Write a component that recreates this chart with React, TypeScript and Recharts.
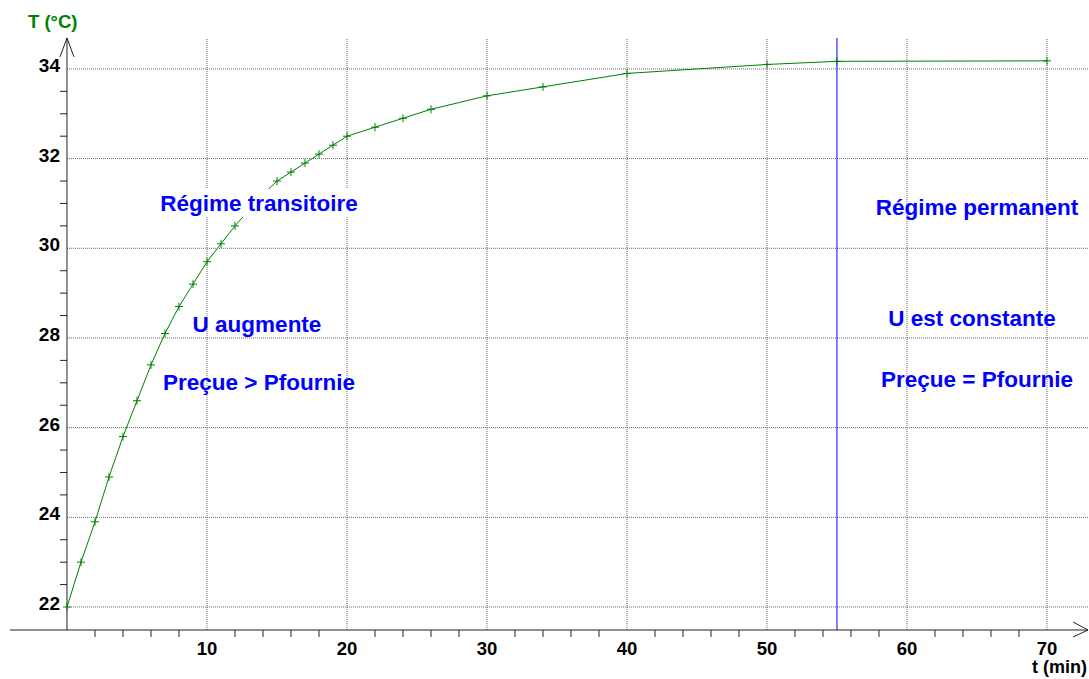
import React from "react";
import { LineChart, Line, XAxis, YAxis, ReferenceLine } from "recharts";

// ---- data ----
const times = [0, 1, 2, 3, 4, 5, 6, 7, 8, 9, 10, 11, 12, 13, 14, 15, 16, 17, 18, 19, 20, 22, 24, 26, 30, 34, 40, 50, 55, 70];
const temps = [22.0, 23.0, 23.9, 24.9, 25.8, 26.6, 27.4, 28.1, 28.7, 29.2, 29.7, 30.1, 30.5, 30.85, 31.2, 31.5, 31.7, 31.9, 32.1, 32.3, 32.5, 32.7, 32.9, 33.1, 33.4, 33.6, 33.9, 34.1, 34.17, 34.18];
const xLabels = [10, 20, 30, 40, 50, 60, 70];
const xMinor = [2, 4, 6, 8, 12, 14, 16, 18, 22, 24, 26, 28, 32, 34, 36, 38, 42, 44, 46, 48, 52, 54, 56, 58, 62, 64, 66, 68];
const yLabels = [22, 24, 26, 28, 30, 32, 34];
const yMinor = [22.5, 23, 23.5, 24.5, 25, 25.5, 26.5, 27, 27.5, 28.5, 29, 29.5, 30.5, 31, 31.5, 32.5, 33, 33.5];
const steadyTime = 55;

const data = times.map((t, i) => ({ t, temp: temps[i] }));

// axis extents (data units)
const X_MIN = -4.071;
const X_MAX = 72.93;
const Y_MIN = 21.487;
const Y_MAX = 34.69;

const FONT = "'Liberation Sans', Arial, Helvetica, sans-serif";
const GREEN = "#008000";
const BLUE = "#0000ff";
const GRID = "#666666";
const AXIS = "#222";
const PLOT_BOTTOM = 630;
const Y_AXIS_PX = 67;

const xTicks = [...xMinor, ...xLabels].sort((a, b) => a - b);
const yTicks = [...yMinor, ...yLabels].sort((a, b) => a - b);

const Cross = (props: any) => {
  const { cx, cy } = props;
  if (cx == null || cy == null) return null;
  return (
    <g>
      <line x1={cx - 4} x2={cx + 4} y1={cy} y2={cy} stroke={GREEN} strokeWidth={1} />
      <line x1={cx} x2={cx} y1={cy - 4} y2={cy + 4} stroke={GREEN} strokeWidth={1} />
    </g>
  );
};

const XTick = (props: any) => {
  const { x, payload } = props;
  const v = payload.value;
  if (xLabels.includes(v)) {
    return (
      <text x={x} y={655} textAnchor="middle" fontFamily={FONT} fontWeight="bold" fontSize={18.5} fill="#000">
        {v}
      </text>
    );
  }
  return <line x1={x} x2={x} y1={PLOT_BOTTOM} y2={PLOT_BOTTOM + 7} stroke={AXIS} strokeWidth={1} />;
};

const YTick = (props: any) => {
  const { y, payload } = props;
  const v = payload.value;
  if (yLabels.includes(v)) {
    return (
      <text x={60} y={y + 3} textAnchor="end" fontFamily={FONT} fontWeight="bold" fontSize={19} fill="#000">
        {v}
      </text>
    );
  }
  return <line x1={Y_AXIS_PX - 7} x2={Y_AXIS_PX} y1={y} y2={y} stroke={AXIS} strokeWidth={1} />;
};

const labelStyle = { fontFamily: FONT, fontWeight: "bold" as const, fontSize: 22.5, fill: BLUE };

export default function App() {
  return (
    <div style={{ position: "absolute", left: 0, top: 0, width: 1089, height: 679, background: "#fff" }}>
      <LineChart width={1089} height={679} data={data} margin={{ top: 38, right: 1, bottom: 0, left: 0 }}>
        <XAxis
          dataKey="t"
          type="number"
          domain={[X_MIN, X_MAX]}
          allowDataOverflow
          ticks={xTicks}
          interval={0}
          height={49}
          axisLine={{ stroke: AXIS, strokeWidth: 1 }}
          tickLine={false}
          tick={<XTick />}
        />
        <YAxis
          type="number"
          domain={[Y_MIN, Y_MAX]}
          allowDataOverflow
          ticks={yTicks}
          interval={0}
          width={10}
          axisLine={false}
          tickLine={false}
          tick={<YTick />}
        />
        {xLabels.map((v) => (
          <ReferenceLine key={"gx" + v} x={v} stroke={GRID} strokeDasharray="1 1" ifOverflow="visible" />
        ))}
        {yLabels.map((v) => (
          <ReferenceLine
            key={"gy" + v}
            segment={[{ x: 0, y: v }, { x: X_MAX, y: v }]}
            stroke={GRID}
            strokeDasharray="1 1"
            ifOverflow="visible"
          />
        ))}
        <ReferenceLine x={0} stroke={AXIS} strokeWidth={1} ifOverflow="visible" />
        <ReferenceLine segment={[{ x: -0.5, y: 34.268 }, { x: 0, y: Y_MAX }]} stroke={AXIS} ifOverflow="visible" />
        <ReferenceLine segment={[{ x: 0.5, y: 34.268 }, { x: 0, y: Y_MAX }]} stroke={AXIS} ifOverflow="visible" />
        <ReferenceLine segment={[{ x: 71.86, y: 21.665 }, { x: X_MAX, y: Y_MIN }]} stroke={AXIS} ifOverflow="visible" />
        <ReferenceLine segment={[{ x: 71.86, y: 21.33 }, { x: X_MAX, y: Y_MIN }]} stroke={AXIS} ifOverflow="visible" />
        <Line
          dataKey="temp"
          type="linear"
          stroke={GREEN}
          strokeWidth={1}
          dot={<Cross />}
          activeDot={false}
          isAnimationActive={false}
        />
        <ReferenceLine x={steadyTime} stroke={BLUE} strokeWidth={1} ifOverflow="visible" />
      </LineChart>
      <svg
        width={1089}
        height={679}
        style={{ position: "absolute", left: 0, top: 0, pointerEvents: "none" }}
      >
        <text x={28} y={28} fontFamily={FONT} fontWeight="bold" fontSize={18.5} fill={GREEN}>
          T (°C)
        </text>
        <text x={1087} y={673} textAnchor="end" fontFamily={FONT} fontWeight="bold" fontSize={18} fill="#000">
          t (min)
        </text>
        <rect x={157} y={189} width={205} height={28} fill="#fff" />
        <text x={259} y={211} textAnchor="middle" {...labelStyle}>Régime transitoire</text>
        <text x={257} y={332} textAnchor="middle" {...labelStyle}>U augmente</text>
        <text x={259} y={390} textAnchor="middle" {...labelStyle}>Preçue &gt; Pfournie</text>
        <text x={977} y={215} textAnchor="middle" {...labelStyle}>Régime permanent</text>
        <text x={972} y={326} textAnchor="middle" {...labelStyle}>U est constante</text>
        <text x={977} y={387} textAnchor="middle" {...labelStyle}>Preçue = Pfournie</text>
      </svg>
    </div>
  );
}
